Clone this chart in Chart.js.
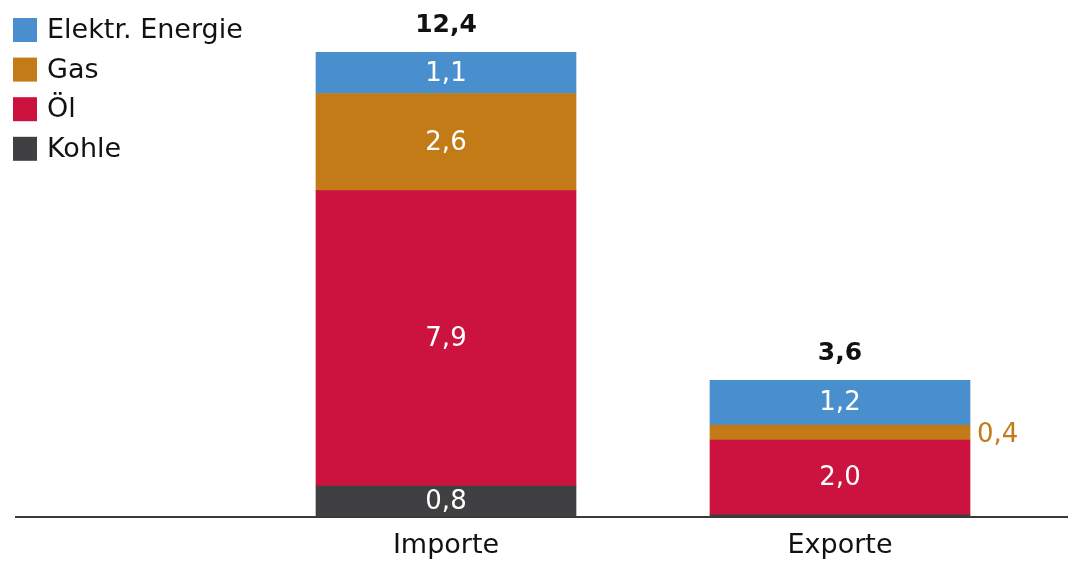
<!DOCTYPE html>
<html lang="de">
<head>
  <meta charset="UTF-8">
  <title>Energie Importe / Exporte</title>
  <script src="https://cdn.jsdelivr.net/npm/chart.js"></script>
  <style>
    body {
      margin: 0;
      padding: 0;
      background: #fff;
      font-family: "DejaVu Sans", sans-serif;
    }
    #wrap {
      width: 1068px;
      height: 563px;
    }
  </style>
</head>
<body>
  <div id="wrap">
    <canvas id="energyChart" width="1068" height="563"></canvas>
  </div>

  <script>
    // Categories and values per energy carrier
    const categories = ['Importe', 'Exporte'];
    const kohle = [0.8, 0.03];
    const oel = [7.9, 2.0];
    const gas = [2.6, 0.4];
    const strom = [1.1, 1.2];
    const totals = ['12,4', '3,6'];

    const seriesNames = ['Kohle', 'Öl', 'Gas', 'Elektr. Energie'];
    const seriesColors = ['#404043', '#cc123e', '#c27b16', '#4a8fcd'];

    const FONT = '"DejaVu Sans", sans-serif';

    function fmt(v) {
      return v.toFixed(1).replace('.', ',');
    }

    // baseline across the whole width + legend in the upper left
    const decorPlugin = {
      id: 'decor',
      afterDraw(chart) {
        const ctx = chart.ctx;
        const area = chart.chartArea;
        ctx.save();
        ctx.strokeStyle = '#3a3a3a';
        ctx.lineWidth = 2;
        ctx.beginPath();
        ctx.moveTo(15, area.bottom + 1);
        ctx.lineTo(chart.width, area.bottom + 1);
        ctx.stroke();

        // legend, top entry = top of the stack
        ctx.font = '27px ' + FONT;
        ctx.textBaseline = 'middle';
        ctx.textAlign = 'left';
        const order = [3, 2, 1, 0];
        order.forEach((s, i) => {
          const cy = 30 + i * 39.6;
          ctx.fillStyle = seriesColors[s];
          ctx.fillRect(13, cy - 12, 24, 24);
          ctx.fillStyle = '#111';
          ctx.fillText(seriesNames[s], 47, cy + 1);
        });
        ctx.restore();
      }
    };

    // value labels inside segments, totals above bars
    const labelPlugin = {
      id: 'valueLabels',
      afterDatasetsDraw(chart) {
        const ctx = chart.ctx;
        ctx.save();
        ctx.textBaseline = 'middle';
        chart.data.datasets.forEach((ds, di) => {
          const meta = chart.getDatasetMeta(di);
          meta.data.forEach((bar, i) => {
            const v = ds.data[i];
            if (v < 0.1) return;
            const mid = (bar.y + bar.base) / 2;
            ctx.font = '26px ' + FONT;
            if (v < 0.5) {
              // too thin for a label inside: put it beside the bar
              ctx.fillStyle = ds.backgroundColor;
              ctx.textAlign = 'left';
              ctx.fillText(fmt(v), bar.x + bar.width / 2 + 7, mid + 3);
            } else {
              ctx.fillStyle = '#fff';
              ctx.textAlign = 'center';
              ctx.fillText(fmt(v), bar.x, mid + 1);
            }
          });
        });
        const last = chart.getDatasetMeta(chart.data.datasets.length - 1);
        last.data.forEach((bar, i) => {
          ctx.font = 'bold 25px ' + FONT;
          ctx.fillStyle = '#111';
          ctx.textAlign = 'center';
          ctx.fillText(totals[i], bar.x, bar.y - 27);
        });
        ctx.restore();
      }
    };

    const ctx = document.getElementById('energyChart').getContext('2d');
    const energyChart = new Chart(ctx, {
      type: 'bar',
      data: {
        labels: categories,
        datasets: [kohle, oel, gas, strom].map((d, i) => ({
          label: seriesNames[i],
          data: d,
          backgroundColor: seriesColors[i],
          borderWidth: 0,
          barThickness: 260
        }))
      },
      options: {
        responsive: false,
        animation: false,
        layout: {
          padding: { left: 249, right: 31, top: 0, bottom: 0 }
        },
        plugins: {
          legend: { display: false },
          tooltip: { enabled: false }
        },
        scales: {
          x: {
            stacked: true,
            grid: { display: false, drawTicks: false, tickLength: 0 },
            border: { display: false },
            ticks: {
              color: '#111',
              padding: 14,
              font: { family: FONT, size: 27 }
            },
            afterFit(scale) {
              scale.height = 47;
            }
          },
          y: {
            stacked: true,
            display: false,
            min: 0,
            max: 13.8
          }
        }
      },
      plugins: [labelPlugin, decorPlugin]
    });
  </script>
</body>
</html>
